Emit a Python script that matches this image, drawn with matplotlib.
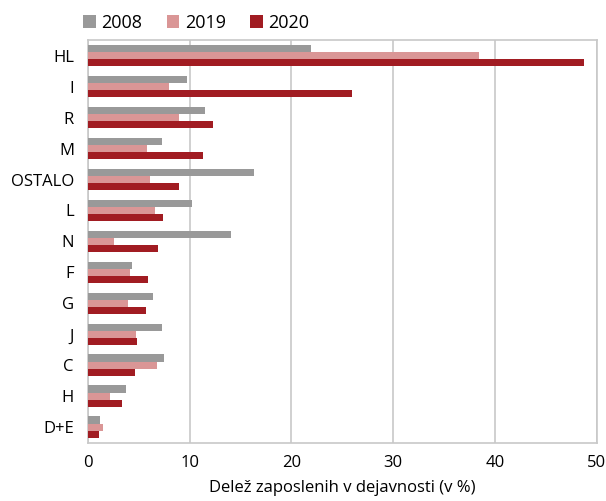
import numpy as np
import matplotlib; matplotlib.use('Agg'); import matplotlib.pyplot as plt

plt.rcParams['font.family'] = ['Open Sans', 'DejaVu Sans']

categories = ['HL', 'I', 'R', 'M', 'OSTALO', 'L', 'N', 'F', 'G', 'J', 'C', 'H', 'D+E']
v2008 = [21.9, 9.7, 11.5, 7.3, 16.3, 10.2, 14.1, 4.3, 6.4, 7.3, 7.5, 3.7, 1.2]
v2019 = [38.4, 8.0, 9.0, 5.8, 6.1, 6.6, 2.6, 4.1, 3.9, 4.7, 6.8, 2.2, 1.5]
v2020 = [48.7, 25.9, 12.3, 11.3, 9.0, 7.4, 6.9, 5.9, 5.7, 4.8, 4.6, 3.4, 1.1]
series = [('2008', v2008, '#999999'), ('2019', v2019, '#da9696'), ('2020', v2020, '#a11c22')]

fig = plt.figure(figsize=(6.06, 5.01), dpi=100)
ax = fig.add_axes([0.145, 0.116, 0.84, 0.804])
y = np.arange(len(categories))
h = 0.235
for i, (lab, vals, col) in enumerate(series):
    ax.barh(y + (i - 1) * h, vals, height=h, color=col, label=lab, zorder=3)

ax.set_xlim(0, 50)
ax.set_ylim(len(categories) - 0.5, -0.5)
ax.set_yticks(y)
ax.set_yticklabels(categories, fontsize=12)
ax.set_xticks(np.arange(0, 51, 10))
ax.tick_params(axis='x', labelsize=12, length=0, pad=9)
ax.tick_params(axis='y', length=0, pad=10)
ax.grid(axis='x', color='#c8c8c8', lw=1.2, zorder=0)
for s in ax.spines.values():
    s.set_color('#c8c8c8'); s.set_linewidth(1.2)
ax.set_xlabel('Delež zaposlenih v dejavnosti (v %)', fontsize=12, labelpad=6)
ax.legend(loc='lower left', bbox_to_anchor=(-0.025, 1.0), ncol=3, frameon=False,
          fontsize=13, handlelength=0.7, handleheight=0.7, handletextpad=0.3,
          columnspacing=1.35, borderaxespad=0.05)
fig.savefig('out.png', dpi=100)
